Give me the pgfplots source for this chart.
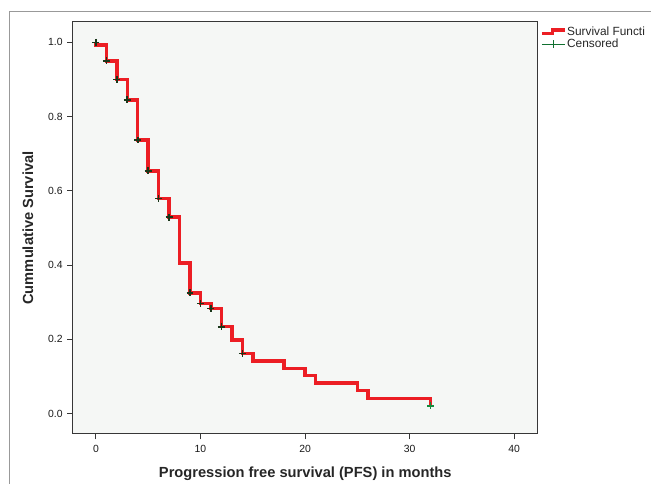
\documentclass[border=0pt]{standalone}
\usepackage{pgfplots}
\pgfplotsset{compat=1.18}
\usepackage{fontspec}
\setmainfont{Liberation Sans}
\definecolor{kmred}{RGB}{236,30,36}
\definecolor{cens}{RGB}{25,55,25}
\definecolor{censg}{RGB}{20,140,60}
\definecolor{plotbg}{RGB}{245,247,245}
\definecolor{axgray}{RGB}{55,55,55}

% survival steps: time, cumulative survival
\pgfplotstableread{
t s
0 1.000
0 0.993
1 0.950
2 0.900
3 0.845
4 0.737
5 0.654
6 0.579
7 0.529
8 0.406
9 0.325
10 0.297
11 0.283
12 0.234
13 0.198
14 0.162
15 0.142
18 0.122
20 0.103
21 0.083
25 0.062
26 0.041
32 0.021
}\kmdata

\pgfplotstableread{
t s
0 1.000
1 0.950
2 0.900
3 0.845
4 0.737
5 0.654
6 0.579
7 0.529
9 0.325
10 0.297
11 0.283
12 0.234
14 0.162
}\censdata

\begin{document}
\begin{tikzpicture}
\path[use as bounding box] (0,0) rectangle (488.25pt,363pt);
\draw[gray!80, line width=0.7pt] (6.75pt,-1pt) -- (6.75pt,354.75pt) -- (490pt,354.75pt);
\begin{axis}[
  at={(54.45pt,37.5pt)}, anchor=south west,
  scale only axis,
  width=349pt, height=309pt,
  xmin=-2.23, xmax=42.27,
  ymin=-0.055, ymax=1.055,
  xtick={0,10,20,30,40},
  ytick={0,0.2,0.4,0.6,0.8,1.0},
  yticklabel style={/pgf/number format/.cd, fixed, fixed zerofill, precision=1},
  /pgf/number format/assume math mode=true,
  tick align=outside,
  major tick length=4pt,
  xtick pos=bottom, ytick pos=left,
  axis line style={axgray, line width=0.75pt},
  every tick/.style={axgray, line width=0.75pt},
  axis background/.style={fill=plotbg},
  tick label style={font=\fontsize{7.8}{9}\selectfont, text=black!90},
  xticklabel style={yshift=-1pt},
  xlabel={\textbf{Progression free survival (PFS) in months}},
  ylabel={\textbf{Cummulative Survival}},
  label style={font=\fontsize{11}{13}\selectfont, text=black!85},
  xlabel style={at={(axis description cs:0.5,0)}, anchor=base, yshift=-32.3pt},
  ylabel style={at={(axis description cs:-0.096,0.5)}, anchor=center},
  legend style={at={(axis description cs:1,1)}, anchor=north west,
    xshift=1.5pt, yshift=-2.6pt, draw=none, fill=none, inner sep=0pt,
    font=\fontsize{8.9}{10}\selectfont, row sep=0pt,
    nodes={inner sep=0.6pt, text=black!85}},
  legend cell align=left,
]
\addplot[const plot, kmred, line width=2.6pt, line join=miter,
  legend image code/.code={
    \draw[kmred, line width=2.6pt, line join=miter]
      (0pt,-1.3pt) -- (8pt,-1.3pt) -- (8pt,1.3pt) -- (17pt,1.3pt);}]
  table[x=t, y=s] {\kmdata};
\addlegendentry{Survival Functi}
\addplot[only marks, mark=+, mark size=2.6pt, cens, line width=1.2pt,
  legend image code/.code={
    \draw[censg!80!black, line width=0.6pt] (0pt,0pt) -- (17pt,0pt);
    \draw[censg!80!black, line width=0.6pt] (8.5pt,-2.8pt) -- (8.5pt,2.8pt);}]
  table[x=t, y=s] {\censdata};
\addlegendentry{Censored}
\addplot[only marks, mark=+, mark size=2.6pt, censg, line width=1.1pt, forget plot]
  coordinates {(32,0.021)};
\end{axis}
\end{tikzpicture}
\end{document}
